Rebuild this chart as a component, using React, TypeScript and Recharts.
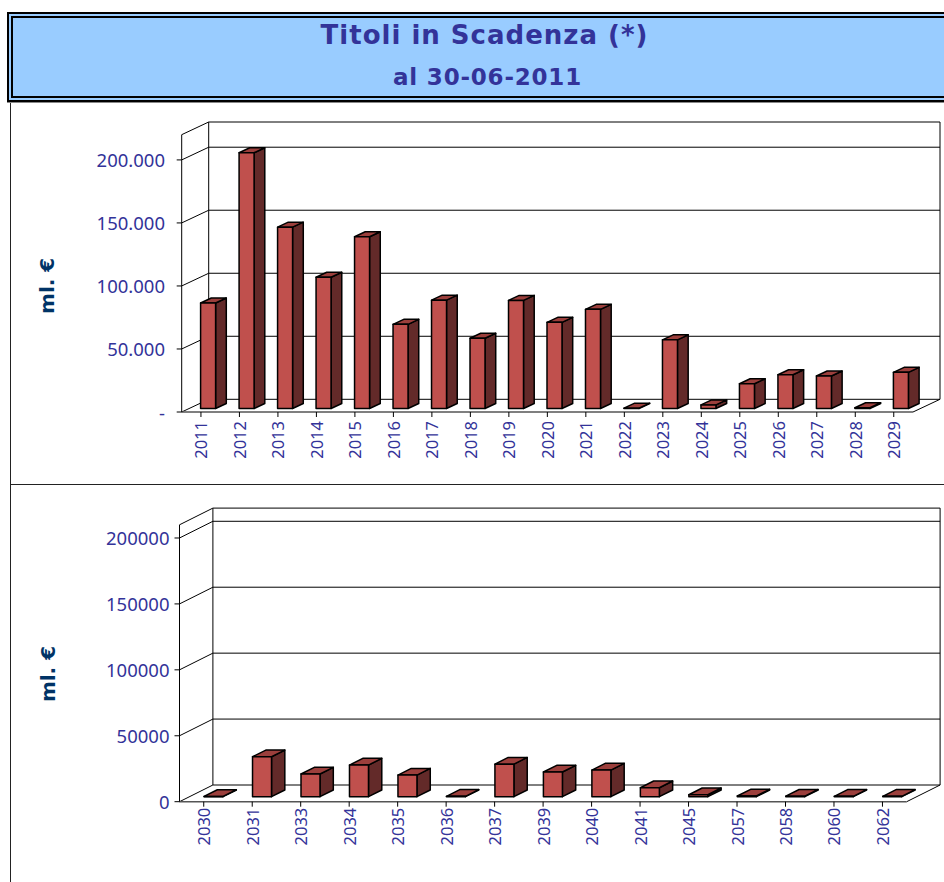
import React from 'react';
import { BarChart, Bar, XAxis, YAxis, CartesianGrid } from 'recharts';

// ---------- data ----------
const years1 = ['2011','2012','2013','2014','2015','2016','2017','2018','2019','2020','2021','2022','2023','2024','2025','2026','2027','2028','2029'];
const values1 = [83700, 202900, 143900, 104200, 136300, 66800, 86000, 55800, 85800, 68400, 78700, 300, 54500, 2900, 19700, 26800, 25800, 600, 28700];

const years2 = ['2030','2031','2033','2034','2035','2036','2037','2039','2040','2041','2045','2057','2058','2060','2062'];
const values2 = [200, 30300, 17200, 24000, 16400, 300, 24700, 18700, 20200, 6800, 1500, 500, 400, 300, 300];

const yTicks1 = [0, 50000, 100000, 150000, 200000];
const yTicks2 = [0, 50000, 100000, 150000, 200000];
const yMax1 = 220000;
const yMax2 = 210000;

const titleText = 'Titoli in Scadenza (*)';
const subtitleText = 'al 30-06-2011';
const unitLabel = 'ml. €';

const data1 = years1.map((y, i) => ({ year: y, value: values1[i] }));
const data2 = years2.map((y, i) => ({ year: y, value: values2[i] }));

// ---------- styles ----------
const TICK_COLOR = '#333399';
const FRONT = '#C0504D';
const SIDE = '#632A29';
const TOPC = '#9C3F3C';
const TICK_FONT = '"Noto Sans", "DejaVu Sans", sans-serif';

const fmtDots = (v: number) => (v === 0 ? '-' : String(v).replace(/\B(?=(\d{3})+(?!\d))/g, '.'));
const fmtPlain = (v: number) => String(v);

function make3DBar(sx: number, sy: number, bx: number, by: number) {
  return (props: any) => {
    const { x, y, width, height } = props;
    if (x == null || y == null) return <g />;
    const h = Math.max(height || 0, 0);
    const fx = x + sx;
    const fy = y - sy;
    const w = width;
    return (
      <g stroke="#000" strokeWidth={1.5} strokeLinejoin="round">
        <polygon
          points={`${fx + w},${fy} ${fx + w + bx},${fy - by} ${fx + w + bx},${fy + h - by} ${fx + w},${fy + h}`}
          fill={SIDE}
        />
        <polygon
          points={`${fx},${fy} ${fx + bx},${fy - by} ${fx + w + bx},${fy - by} ${fx + w},${fy}`}
          fill={TOPC}
        />
        <rect x={fx} y={fy} width={w} height={h} fill={FRONT} />
      </g>
    );
  };
}

function makeGridH(dx: number, dy: number) {
  return (props: any) => {
    const { x1, y1, x2, y, height, index } = props;
    const bottom = y + height;
    const isZero = Math.abs(y1 - bottom) < 0.6;
    const isTop = Math.abs(y1 - y) < 0.6;
    return (
      <g key={`gl-${index}-${y1}`} stroke="#000" strokeWidth={1} fill="none">
        <line x1={x1} y1={y1} x2={x1 + dx} y2={y1 - dy} />
        <line x1={x1 + dx} y1={y1 - dy} x2={x2 + dx} y2={y1 - dy} />
        {isZero && <line x1={x2} y1={y1} x2={x2 + dx} y2={y1 - dy} />}
        {isTop && <line x1={x1 + dx} y1={y1 - dy} x2={x1 + dx} y2={bottom - dy} />}
        {isTop && <line x1={x2 + dx} y1={y1 - dy} x2={x2 + dx} y2={bottom - dy} />}
      </g>
    );
  };
}

function makeYTick(fmt: (v: number) => string, hidden: number, tickSize: number, tickMargin: number) {
  return (props: any) => {
    const { x, y, payload } = props;
    if (payload.value === hidden) return <g />;
    return (
      <g>
        <line x1={x + tickMargin} x2={x + tickMargin + tickSize} y1={y} y2={y} stroke="#000" strokeWidth={1} />
        <text x={x} y={y} textAnchor="end" dominantBaseline="central" fill={TICK_COLOR} fontSize={18.5} fontFamily={TICK_FONT}>
          {fmt(payload.value)}
        </text>
      </g>
    );
  };
}

const XTick = (props: any) => {
  const { x, y, payload } = props;
  return (
    <text
      x={x}
      y={y}
      transform={`rotate(-90, ${x}, ${y})`}
      textAnchor="end"
      dominantBaseline="central"
      fill={TICK_COLOR}
      fontSize={16.5}
      fontFamily={TICK_FONT}
    >
      {payload.value}
    </text>
  );
};

export default function App() {
  return (
    <div style={{ position: 'absolute', left: 0, top: 0, width: 944, height: 882, overflow: 'hidden', background: '#fff' }}>
      {/* panel frame lines */}
      <div style={{ position: 'absolute', left: 10, top: 102, width: 1, height: 780, background: '#222' }} />
      <div style={{ position: 'absolute', left: 10, top: 484, width: 934, height: 1, background: '#222' }} />

      {/* top chart */}
      <div style={{ position: 'absolute', left: 0, top: 100 }}>
        <BarChart width={944} height={384} data={data1} margin={{ top: 34.7, right: 31, bottom: 12, left: 0 }} barCategoryGap="30%">
          <CartesianGrid horizontal={makeGridH(27, 12.7)} vertical={false} />
          <XAxis
            dataKey="year"
            interval={0}
            height={60}
            tickSize={5}
            tickMargin={4}
            axisLine={{ stroke: '#555', strokeWidth: 1.5 }}
            tickLine={{ stroke: '#000' }}
            tick={XTick}
          />
          <YAxis
            type="number"
            domain={[0, yMax1]}
            ticks={[...yTicks1, yMax1]}
            interval={0}
            width={181.7}
            tickSize={5}
            tickMargin={11.7}
            tickLine={false}
            axisLine={{ stroke: '#000' }}
            tick={makeYTick(fmtDots, yMax1, 5, 11.7)}
          />
          <Bar dataKey="value" isAnimationActive={false} shape={make3DBar(7.35, 3.46, 10.7, 5)} />
        </BarChart>
      </div>

      {/* bottom chart */}
      <div style={{ position: 'absolute', left: 0, top: 485 }}>
        <BarChart width={944} height={397} data={data2} margin={{ top: 39.8, right: 37.3, bottom: 20.3, left: 0 }} barCategoryGap="30%">
          <CartesianGrid horizontal={makeGridH(33.4, 16.7)} vertical={false} />
          <XAxis
            dataKey="year"
            interval={0}
            height={60}
            tickSize={5}
            tickMargin={1}
            axisLine={{ stroke: '#555', strokeWidth: 1.5 }}
            tickLine={{ stroke: '#000' }}
            tick={XTick}
          />
          <YAxis
            type="number"
            domain={[0, yMax2]}
            ticks={[...yTicks2, yMax2]}
            interval={0}
            width={179.5}
            tickSize={5}
            tickMargin={5}
            tickLine={false}
            axisLine={{ stroke: '#000' }}
            tick={makeYTick(fmtPlain, yMax2, 5, 5)}
          />
          <Bar dataKey="value" isAnimationActive={false} shape={make3DBar(10, 5, 13.3, 6.7)} />
        </BarChart>
      </div>

      {/* unit labels */}
      <svg width={944} height={882} style={{ position: 'absolute', left: 0, top: 0, pointerEvents: 'none' }}>
        <text x={47.5} y={285.8} transform="rotate(-90, 47.5, 285.8)" textAnchor="middle" dominantBaseline="central"
          fill="#003366" fontSize={20} fontWeight="bold" fontFamily='"DejaVu Sans", sans-serif'>{unitLabel}</text>
        <text x={47.5} y={674} transform="rotate(-90, 47.5, 674)" textAnchor="middle" dominantBaseline="central"
          fill="#003366" fontSize={20} fontWeight="bold" fontFamily='"DejaVu Sans", sans-serif'>{unitLabel}</text>
      </svg>

      {/* title box */}
      <div style={{ position: 'absolute', left: 7, top: 12, width: 960, height: 90, boxSizing: 'border-box', border: '2px solid #000', background: '#99CCFF', boxShadow: '0 1px 0 #888' }}>
        <div style={{ position: 'absolute', left: 2, top: 2, right: 2, bottom: 2, border: '2px solid #000' }} />
      </div>
      <div style={{ position: 'absolute', left: 0, top: 19.5, width: 969, height: 30, lineHeight: '30px', textAlign: 'center',
        fontFamily: '"DejaVu Sans", sans-serif', fontWeight: 'bold', fontSize: 26, letterSpacing: 1, color: '#333399', whiteSpace: 'nowrap' }}>
        {titleText}
      </div>
      <div style={{ position: 'absolute', left: 0, top: 64.2, width: 975, height: 27, lineHeight: '27px', textAlign: 'center',
        fontFamily: '"DejaVu Sans", sans-serif', fontWeight: 'bold', fontSize: 23, letterSpacing: 0.8, color: '#333399', whiteSpace: 'nowrap' }}>
        {subtitleText}
      </div>
    </div>
  );
}
